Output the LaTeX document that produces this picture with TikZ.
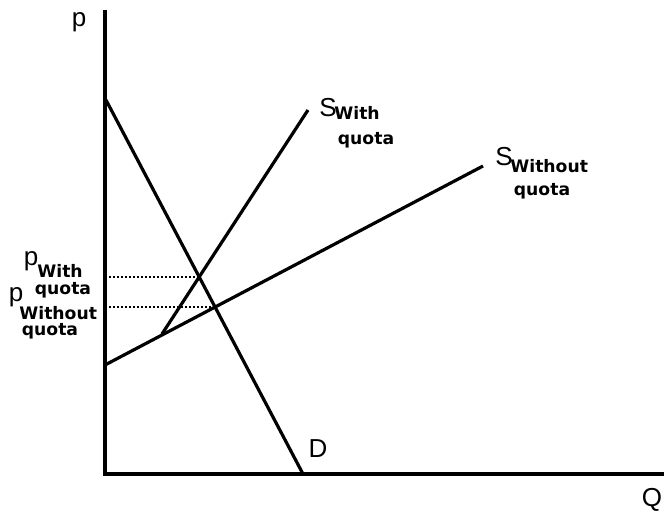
\documentclass[tikz,border=0pt]{standalone}
\usepackage{fontspec}
\setmainfont{Liberation Sans}
\newfontfamily\labelfont{DejaVu Sans}
\usetikzlibrary{calc}

\begin{document}
\begin{tikzpicture}[x=0.5pt, y=-0.5pt,
		axis/.style={line width=2.2pt},
		curve/.style={line width=1.6pt},
		guide/.style={line width=1.1pt, dash pattern=on 1.2pt off 0.8pt},
		big/.style={inner sep=0pt, font=\fontsize{13}{14}\selectfont},
		small/.style={inner sep=0pt, font=\labelfont\fontsize{8.6}{9}\selectfont\bfseries}]
		\useasboundingbox (0,0) rectangle (664,515);
		% axes
		\coordinate (O) at (105,474);
		\coordinate (Ptop) at (105,10);
		\coordinate (Qend) at (664,474);
		\draw[axis] (Ptop) -- (O) -- (Qend);
		% demand and the two supply lines
		\coordinate (Da) at (106,100);
		\coordinate (Db) at (303,474);
		\coordinate (Swa) at (162,334);
		\coordinate (Swb) at (308,110);
		\coordinate (Sna) at (105,365);
		\coordinate (Snb) at (483,166);
		\draw[curve] (Da) -- (Db);
		\draw[curve] (Swa) -- (Swb);
		\draw[curve] (Sna) -- (Snb);
		% equilibria
		\coordinate (Ew) at (intersection of Da--Db and Swa--Swb);
		\coordinate (En) at (intersection of Da--Db and Sna--Snb);
		\draw[guide] (O |- Ew) -- (Ew);
		\draw[guide] (O |- En) -- (En);
		% labels
		\node[big] (plab) at (79,22) {p};
		\node[big] (qlab) at (652,500) {Q};
		\node[big] (dlab) at (318,449) {D};
		\node[big] (sw) at (328,108) {S};
		\node[small, anchor=west] (swsub) at (334,113) {With};
		\node[small] (swq) at (366,140) {quota};
		\node[big] (sn) at (504,157) {S};
		\node[small, anchor=west] (snsub) at (510,166) {Without};
		\node[small] (snq) at (542,191) {quota};
		\node[big] (pw) at (31,261) {p};
		\node[small, anchor=west] (pwsub) at (37,271) {With};
		\node[small] (pwq) at (63,290) {quota};
		\node[big] (pn) at (16,297) {p};
		\node[small, anchor=west] (pnsub) at (19,313) {Without};
		\node[small] (pnq) at (50,331) {quota};
	\end{tikzpicture}
\end{document}
